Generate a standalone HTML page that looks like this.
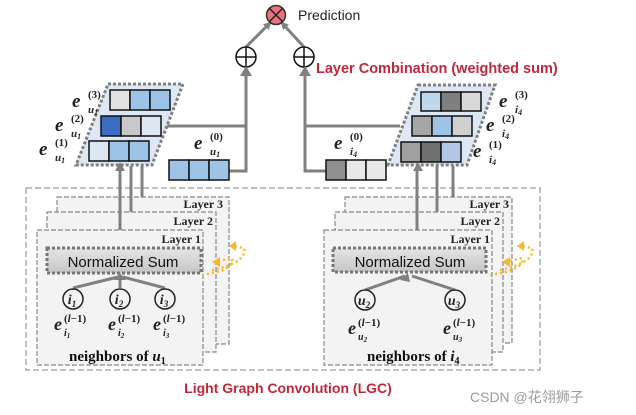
<!DOCTYPE html>
<html><head><meta charset="utf-8"><style>
html,body{margin:0;padding:0;background:#fff;}
svg{display:block;}
.ser{font-family:"Liberation Serif",serif;font-weight:bold;}
.sans{font-family:"Liberation Sans",sans-serif;}
</style></head><body>
<svg width="636" height="415" viewBox="0 0 636 415" xmlns="http://www.w3.org/2000/svg">
<defs>
<marker id="ah" markerWidth="8" markerHeight="8" refX="6" refY="4" orient="auto" markerUnits="userSpaceOnUse">
<path d="M0,0 L8,4 L0,8 z" fill="#808080"/></marker>
<linearGradient id="ns" x1="0" y1="0" x2="0" y2="1"><stop offset="0" stop-color="#e4e4e4"/><stop offset="1" stop-color="#c6c6c6"/></linearGradient>
</defs>

<!-- Prediction -->
<line x1="246" y1="47" x2="270" y2="23" stroke="#808080" stroke-width="3" marker-end="url(#ah)"/>
<line x1="304" y1="47" x2="282" y2="23" stroke="#808080" stroke-width="3" marker-end="url(#ah)"/>
<circle cx="276" cy="15" r="9.5" fill="#e8737d" stroke="#333" stroke-width="1.5"/>
<path d="M269.5,8.5 L282.5,21.5 M282.5,8.5 L269.5,21.5" stroke="#222" stroke-width="1.5"/>
<text x="298" y="20" class="sans" font-size="14" fill="#222">Prediction</text>

<!-- plus circles -->
<g fill="#fff" stroke="#111" stroke-width="1.5">
<circle cx="246" cy="57" r="10"/><circle cx="304" cy="57" r="10"/></g>
<path d="M236,57 H256 M246,47 V67 M294,57 H314 M304,47 V67" stroke="#111" stroke-width="1.5"/>
<text x="316" y="73" class="sans" font-size="14.5" font-weight="bold" fill="#c0283a">Layer Combination (weighted sum)</text>

<!-- left connectors -->
<path d="M161,126 H246 M229,171 H246 V69" fill="none" stroke="#808080" stroke-width="3"/>
<path d="M240,76 L246,66 L252,76 z" fill="#808080"/>
<!-- right connectors -->
<path d="M400,126 H305 M326,171 H305 V69" fill="none" stroke="#808080" stroke-width="3"/>
<path d="M299,76 L305,66 L311,76 z" fill="#808080"/>

<!-- left stack -->
<polygon points="108,84 183,84 152,165 76,165" fill="#dde8f4" stroke="#808080" stroke-width="3" stroke-dasharray="3,2"/>
<g stroke="#111" stroke-width="1.5">
<rect x="110" y="90" width="20" height="20" fill="#e2e2e2"/><rect x="130" y="90" width="20" height="20" fill="#9dc3e6"/><rect x="150" y="90" width="20" height="20" fill="#9dc3e6"/>
<rect x="101" y="116" width="20" height="20" fill="#3b6cc4"/><rect x="121" y="116" width="20" height="20" fill="#c8c8c8"/><rect x="141" y="116" width="20" height="20" fill="#dde6f3"/>
<rect x="89" y="141" width="20" height="20" fill="#dde6f3"/><rect x="109" y="141" width="20" height="20" fill="#9dc3e6"/><rect x="129" y="141" width="20" height="20" fill="#9dc3e6"/>
<rect x="169" y="160" width="20" height="20" fill="#9dc3e6"/><rect x="189" y="160" width="20" height="20" fill="#9dc3e6"/><rect x="209" y="160" width="20" height="20" fill="#9dc3e6"/>
</g>
<g class="ser" font-style="italic" fill="#222">
<text x="72" y="107" font-size="19">e</text><text x="88" y="98" font-size="11" font-style="normal">(3)</text><text x="88" y="113" font-size="11">u<tspan font-size="8" dy="2">1</tspan></text>
<text x="55" y="131" font-size="19">e</text><text x="71" y="122" font-size="11" font-style="normal">(2)</text><text x="71" y="137" font-size="11">u<tspan font-size="8" dy="2">1</tspan></text>
<text x="39" y="155" font-size="19">e</text><text x="55" y="146" font-size="11" font-style="normal">(1)</text><text x="55" y="161" font-size="11">u<tspan font-size="8" dy="2">1</tspan></text>
<text x="194" y="149" font-size="19">e</text><text x="210" y="140" font-size="11" font-style="normal">(0)</text><text x="210" y="155" font-size="11">u<tspan font-size="8" dy="2">1</tspan></text>
</g>

<!-- right stack -->
<polygon points="418,85 495,85 467,165 388,165" fill="#dde8f4" stroke="#808080" stroke-width="3" stroke-dasharray="3,2"/>
<g stroke="#111" stroke-width="1.5">
<rect x="421" y="92" width="20" height="19" fill="#bdd7ee"/><rect x="441" y="92" width="20" height="19" fill="#7f7f7f"/><rect x="461" y="92" width="20" height="19" fill="#d9d9d9"/>
<rect x="412" y="116" width="20" height="20" fill="#a6a6a6"/><rect x="432" y="116" width="20" height="20" fill="#9dc3e6"/><rect x="452" y="116" width="20" height="20" fill="#d0d0d0"/>
<rect x="401" y="142" width="20" height="20" fill="#a0a0a0"/><rect x="421" y="142" width="20" height="20" fill="#707070"/><rect x="441" y="142" width="20" height="20" fill="#b4c7e7"/>
<rect x="326" y="160" width="20" height="20" fill="#909090"/><rect x="346" y="160" width="20" height="20" fill="#e8e8e8"/><rect x="366" y="160" width="20" height="20" fill="#e8e8e8"/>
</g>
<g class="ser" font-style="italic" fill="#222">
<text x="499" y="107" font-size="19">e</text><text x="515" y="98" font-size="11" font-style="normal">(3)</text><text x="515" y="113" font-size="11">i<tspan font-size="8" dy="2">4</tspan></text>
<text x="486" y="131" font-size="19">e</text><text x="502" y="122" font-size="11" font-style="normal">(2)</text><text x="502" y="137" font-size="11">i<tspan font-size="8" dy="2">4</tspan></text>
<text x="473" y="157" font-size="19">e</text><text x="489" y="148" font-size="11" font-style="normal">(1)</text><text x="489" y="163" font-size="11">i<tspan font-size="8" dy="2">4</tspan></text>
<text x="334" y="149" font-size="19">e</text><text x="350" y="140" font-size="11" font-style="normal">(0)</text><text x="350" y="155" font-size="11">i<tspan font-size="8" dy="2">4</tspan></text>
</g>

<!-- big dashed box -->
<rect x="26" y="188" width="514" height="182" fill="none" stroke="#999" stroke-width="1.2" stroke-dasharray="6,3"/>

<!-- left layers -->
<g fill="#f3f3f3" stroke="#888" stroke-width="1.2" stroke-dasharray="5,2">
<rect x="57" y="197" width="172" height="147"/>
<rect x="47" y="212" width="169" height="140"/>
<rect x="37" y="230" width="166" height="135"/>
<rect x="345" y="197" width="167" height="146"/>
<rect x="335" y="212" width="168" height="140"/>
<rect x="324" y="230" width="168" height="135"/>
</g>
<!-- vertical arrows -->
<g stroke="#808080" stroke-width="3">
<line x1="120" y1="230" x2="120" y2="166"/><line x1="131" y1="212" x2="131" y2="166"/><line x1="142" y1="197" x2="142" y2="166"/>
<line x1="417" y1="230" x2="417" y2="166"/><line x1="437" y1="212" x2="437" y2="166"/><line x1="453" y1="197" x2="453" y2="166"/>
</g>
<path d="M115,171 L120,162 L125,171 z M413,171 L418,162 L423,171 z" fill="#808080"/>

<g class="ser" font-size="12" fill="#222" text-anchor="end">
<text x="223" y="208">Layer 3</text><text x="213" y="225">Layer 2</text><text x="201" y="243">Layer 1</text>
<text x="509" y="208">Layer 3</text><text x="500" y="225">Layer 2</text><text x="490" y="243">Layer 1</text>
</g>

<!-- normalized sum boxes -->
<rect x="47" y="248" width="154" height="25" fill="url(#ns)" stroke="#777" stroke-width="3" stroke-dasharray="3,2"/>
<rect x="333" y="248" width="153" height="24" fill="url(#ns)" stroke="#777" stroke-width="3" stroke-dasharray="3,2"/>
<text x="123" y="267" class="sans" font-size="15" fill="#111" text-anchor="middle">Normalized Sum</text>
<text x="410" y="267" class="sans" font-size="15" fill="#111" text-anchor="middle">Normalized Sum</text>

<!-- neighbor arrows -->
<g stroke="#808080" stroke-width="3">
<line x1="73" y1="288" x2="118" y2="277"/><line x1="120" y1="288" x2="120" y2="278"/><line x1="165" y1="288" x2="123" y2="277"/>
<line x1="365" y1="290" x2="405" y2="276"/><line x1="455" y1="290" x2="412" y2="276"/>
</g>
<path d="M114,280 L120,273 L126,280 z M400,280 L408,273 L410,282 z" fill="#808080"/>
<g fill="#f3f3f3" stroke="#222" stroke-width="1.5">
<circle cx="73" cy="299" r="10"/><circle cx="120" cy="299" r="10"/><circle cx="165" cy="299" r="10"/>
<circle cx="365" cy="300" r="10"/><circle cx="455" cy="300" r="10"/>
</g>
<g class="ser" font-style="italic" fill="#222" text-anchor="middle" font-size="14">
<text x="72" y="304">i<tspan font-size="9" dy="3">1</tspan></text>
<text x="119" y="304">i<tspan font-size="9" dy="3">2</tspan></text>
<text x="164" y="304">i<tspan font-size="9" dy="3">3</tspan></text>
<text x="364" y="305">u<tspan font-size="9" dy="3">2</tspan></text>
<text x="454" y="305">u<tspan font-size="9" dy="3">3</tspan></text>
</g>
<g class="ser" font-style="italic" fill="#222">
<text x="54" y="330" font-size="18">e</text><text x="64" y="322" font-size="11" font-style="normal">(<tspan font-style="italic">l</tspan>−1)</text><text x="64" y="336" font-size="10">i<tspan font-size="7" dy="2">1</tspan></text>
<text x="108" y="330" font-size="18">e</text><text x="118" y="322" font-size="11" font-style="normal">(<tspan font-style="italic">l</tspan>−1)</text><text x="118" y="336" font-size="10">i<tspan font-size="7" dy="2">2</tspan></text>
<text x="153" y="330" font-size="18">e</text><text x="163" y="322" font-size="11" font-style="normal">(<tspan font-style="italic">l</tspan>−1)</text><text x="163" y="336" font-size="10">i<tspan font-size="7" dy="2">3</tspan></text>
<text x="348" y="334" font-size="18">e</text><text x="358" y="326" font-size="11" font-style="normal">(<tspan font-style="italic">l</tspan>−1)</text><text x="358" y="340" font-size="10">u<tspan font-size="7" dy="2">2</tspan></text>
<text x="443" y="334" font-size="18">e</text><text x="453" y="326" font-size="11" font-style="normal">(<tspan font-style="italic">l</tspan>−1)</text><text x="453" y="340" font-size="10">u<tspan font-size="7" dy="2">3</tspan></text>
</g>
<text x="69" y="361" class="ser" font-size="15" fill="#111">neighbors of <tspan font-style="italic">u</tspan><tspan font-size="10" dy="3">1</tspan></text>
<text x="367" y="361" class="ser" font-size="15" fill="#111">neighbors of <tspan font-style="italic">i</tspan><tspan font-size="10" dy="3">4</tspan></text>

<!-- yellow dotted arrows -->
<g fill="none" stroke="#f5b82e" stroke-width="2.5" stroke-dasharray="2,3">
<path d="M202,275 Q235,270 232,258 L216,262"/>
<path d="M212,270 Q248,262 244,248 L232,246"/>
<path d="M490,275 Q525,270 522,258 L506,262"/>
<path d="M500,270 Q536,262 532,248 L520,246"/>
</g>
<path d="M212,262 L220,257 L220,267 z M229,246 L236,241 L236,251 z M502,262 L510,257 L510,267 z M517,246 L524,241 L524,251 z" fill="#f5b82e"/>

<text x="288" y="393" class="sans" font-size="14" font-weight="bold" fill="#c0283a" text-anchor="middle">Light Graph Convolution (LGC)</text>
<text x="470" y="402" font-family="'Liberation Sans','Noto Sans CJK SC',sans-serif" font-size="14" fill="#9a9a9a">CSDN @花翎狮子</text>
</svg>
</body></html>
